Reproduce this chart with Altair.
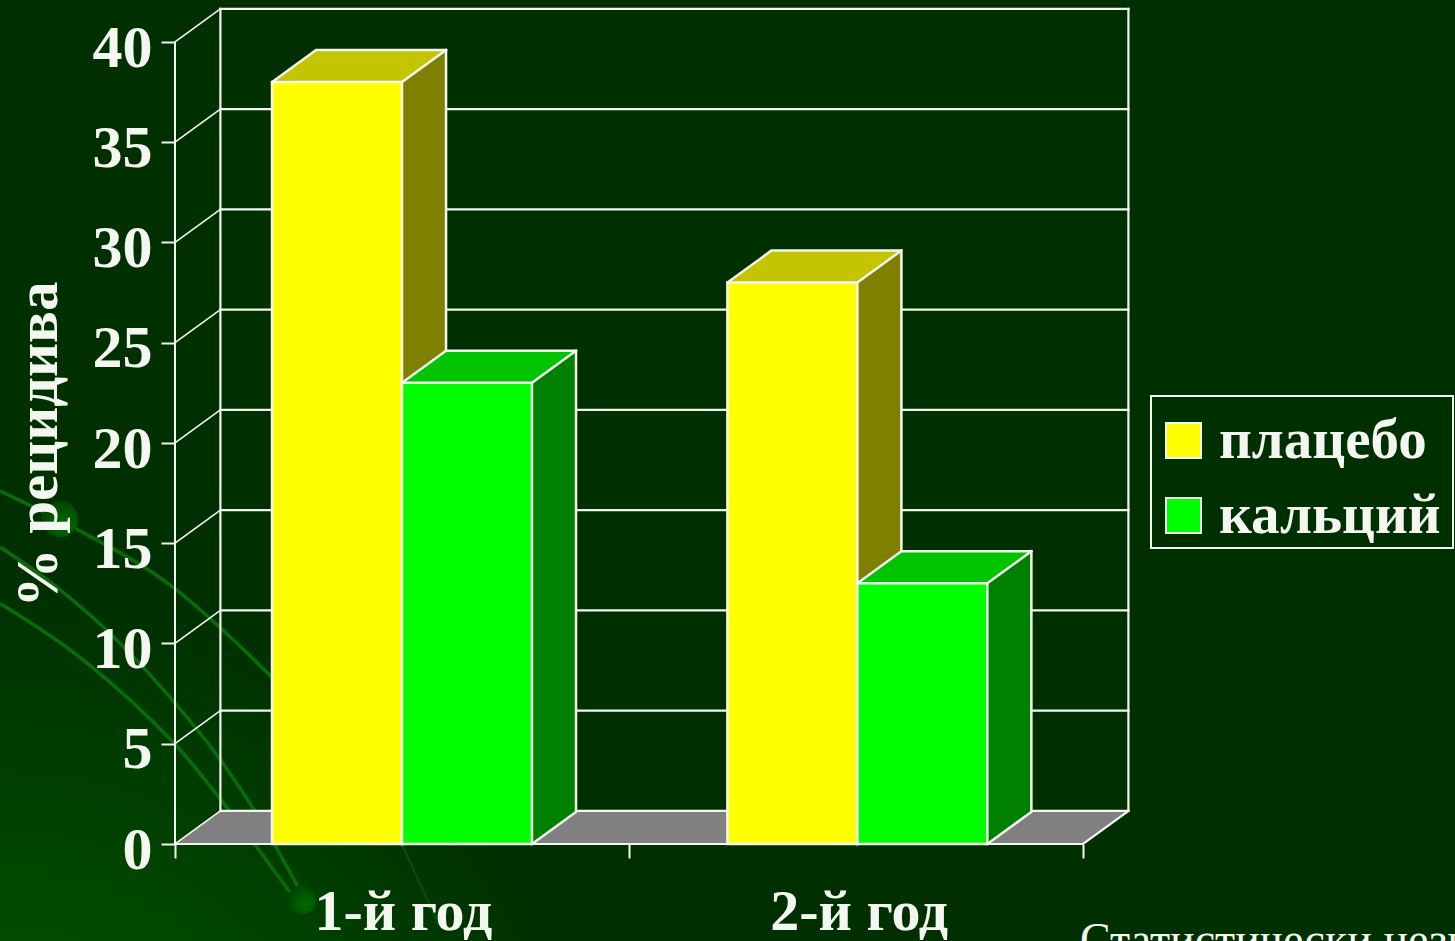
import altair as alt
import pandas as pd

# Relapse rates by year and treatment arm
categories = ["1-й год", "2-й год"]
series_names = ["плацебо", "кальций"]
placebo = [38, 28]
calcium = [23, 13]
y_ticks = [0, 5, 10, 15, 20, 25, 30, 35, 40]
x_ticks = [0, 1, 2]
y_title = "% рецидива"
footnote = "Статистически незначимо"

# Decorative curves in the slide backdrop, in axis units
curve_a_x = [-0.385, -0.216, -0.004, 0.137, 0.214, 0.32]
curve_a_y = [17.6, 15.7, 12.8, 10.0, 8.3, 5.8]
curve_d_x = [0.32, 0.5, 0.58]
curve_d_y = [5.8, 0.0, -4.0]
curve_b_x = [-0.385, -0.26, -0.143, -0.018, 0.09, 0.18, 0.27]
curve_b_y = [14.8, 12.8, 10.5, 7.5, 4.5, 1.5, -2.1]
curve_c_x = [-0.385, -0.238, -0.10, 0.011, 0.115, 0.253]
curve_c_y = [12.0, 9.8, 7.2, 4.7, 1.8, -2.4]
spot_x = [-0.253, 0.28]
spot_y = [16.2, -2.8]

BAR_W = 0.2863
DX, DY = 0.1, 1.65        # depth of the chart box
BAR_DX, BAR_DY = 0.097, 1.6  # depth of a bar

x_scale = alt.Scale(domain=[-175 / 454, 1280 / 454], range=[0, 1455], nice=False, zero=False)
y_scale = alt.Scale(domain=[-97 / 20.05, 844 / 20.05], range=[941, 0], nice=False, zero=False)
color_scale = alt.Scale(domain=series_names, range=["#ffff00", "#00ff00"])

WHITE = "#f4f6f0"


def X(field="x", **kw):
    return alt.X(f"{field}:Q", scale=x_scale, axis=None, title=None, **kw)


def Y(field="y", **kw):
    return alt.Y(f"{field}:Q", scale=y_scale, axis=None, title=None, **kw)


def path_layer(rows, width=2.0, color=WHITE):
    """Polyline(s) given as (id, x, y) rows, kept in row order."""
    df = pd.DataFrame(rows, columns=["id", "x", "y"]).reset_index()
    return (
        alt.Chart(df)
        .mark_line(color=color, strokeWidth=width, strokeCap="square", clip=False)
        .encode(x=X(), y=Y(), detail="id:N", order="index:Q")
    )


backdrop = alt.Chart(pd.DataFrame({"a": [0]})).mark_rect(
    color=alt.RadialGradient(
        gradient="radial",
        x1=0, y1=1, x2=0, y2=1, r1=0, r2=0.42,
        stops=[
            alt.GradientStop(color="#006000", offset=0),
            alt.GradientStop(color="#003000", offset=1),
        ],
    )
).encode(x=alt.value(0), x2=alt.value(1455), y=alt.value(0), y2=alt.value(941))

curve_rows = []
for name, cx, cy in [("a", curve_a_x, curve_a_y), ("b", curve_b_x, curve_b_y), ("c", curve_c_x, curve_c_y)]:
    curve_rows += [(name, px, py) for px, py in zip(cx, cy)]
curves = (
    alt.Chart(pd.DataFrame(curve_rows, columns=["id", "x", "y"]).reset_index())
    .mark_line(color="#0a6a0a", strokeWidth=3.6, interpolate="monotone")
    .encode(x=X(), y=Y(), detail="id:N", order="index:Q")
)
faint_curve = (
    alt.Chart(pd.DataFrame({"x": curve_d_x, "y": curve_d_y}).reset_index())
    .mark_line(color="#0a4c0a", strokeWidth=2.2)
    .encode(x=X(), y=Y(), order="index:Q")
)
spots = (
    alt.Chart(pd.DataFrame({"x": spot_x, "y": spot_y, "s": [1300, 800]}))
    .mark_circle(
        opacity=1,
        color=alt.RadialGradient(
            gradient="radial",
            x1=0.65, y1=0.65, x2=0.65, y2=0.65, r1=0, r2=0.75,
            stops=[
                alt.GradientStop(color="#006a00", offset=0),
                alt.GradientStop(color="#004200", offset=1),
            ],
        ),
    )
    .encode(x=X(), y=Y(), size=alt.Size("s:Q", scale=None, legend=None))
)

# Value axis and the ticks of the category axis
y_axis_layer = (
    alt.Chart(pd.DataFrame({"y": [0, 40], "x": [0, 0]}))
    .mark_line(color=WHITE, strokeWidth=2)
    .encode(
        x=alt.X(
            "x:Q", scale=x_scale, title=None,
            axis=alt.Axis(
                values=x_ticks, orient="bottom", offset=-97, domain=False, grid=False,
                labels=False, ticks=True, tickSize=14, tickColor=WHITE, tickWidth=2,
                title=None, zindex=1,
            ),
        ),
        y=alt.Y(
            "y:Q", scale=y_scale,
            axis=alt.Axis(
                values=y_ticks, orient="left", offset=-175, domain=False, grid=False,
                tickSize=14, tickColor=WHITE, tickWidth=2, labelPadding=9, labelOffset=6,
                labelFont="Liberation Serif", labelFontWeight="bold", labelFontSize=60,
                labelColor=WHITE, labelBaseline="middle", zindex=1,
                title=y_title, titleFont="Liberation Serif", titleFontWeight="bold",
                titleFontSize=59, titleColor=WHITE, titleAngle=270, titleAlign="center",
                titleBaseline="alphabetic", titleX=-119, titleY=444,
            ),
        ),
    )
)

# Grey floor of the box
floor_df = pd.DataFrame({"y": [0, DY], "x": [0, DX], "x2": [2, 2 + DX]})
floor = (
    alt.Chart(floor_df)
    .mark_area(orient="horizontal", color="#808080", opacity=1)
    .encode(y=Y(), x=X(), x2="x2:Q")
)

# Wall gridlines and the slanted lines on the side wall
box_rows = []
for t in y_ticks:
    box_rows.append((f"w{t}", DX, t + DY))
    box_rows.append((f"w{t}", 2 + DX, t + DY))
box_rows += [("l", DX, DY), ("l", DX, 40 + DY), ("r", 2 + DX, DY), ("r", 2 + DX, 40 + DY)]
box = path_layer(box_rows, 2.2)
slant_rows = []
for t in y_ticks:
    slant_rows.append((f"s{t}", 0, t))
    slant_rows.append((f"s{t}", DX, t + DY))
slants = path_layer(slant_rows, 1.6)
front_edge = path_layer([("f", 0, 0), ("f", 2, 0), ("f", 2 + DX, DY)], 2.2)


def bar_layers(name, values, start_offset, side_color, top_color):
    centers = [0.5, 1.503]
    side_rows, top_rows, fronts, outline = [], [], [], []
    for i, (c, v) in enumerate(zip(centers, values)):
        x0 = c + start_offset
        x1 = x0 + BAR_W
        side_rows += [
            {"id": i, "x": x1, "y": 0, "y2": v},
            {"id": i, "x": x1 + BAR_DX, "y": BAR_DY, "y2": v + BAR_DY},
        ]
        top_rows += [
            {"id": i, "y": v, "x": x0, "x2": x1},
            {"id": i, "y": v + BAR_DY, "x": x0 + BAR_DX, "x2": x1 + BAR_DX},
        ]
        fronts.append({"series": name, "x": x0, "x2": x1, "y": 0, "y2": v})
        k = f"o{i}"
        outline += [
            (k, x0, 0), (k, x0, v), (k, x0 + BAR_DX, v + BAR_DY),
            (k, x1 + BAR_DX, v + BAR_DY), (k, x1 + BAR_DX, BAR_DY), (k, x1, 0), (k, x0, 0),
        ]
        outline += [(k + "a", x0, v), (k + "a", x1, v), (k + "a", x1, 0)]
        outline += [(k + "b", x1, v), (k + "b", x1 + BAR_DX, v + BAR_DY)]
    side = (
        alt.Chart(pd.DataFrame(side_rows))
        .mark_area(color=side_color, opacity=1)
        .encode(x=X(), y=Y(), y2="y2:Q", detail="id:N")
    )
    top = (
        alt.Chart(pd.DataFrame(top_rows))
        .mark_area(orient="horizontal", color=top_color, opacity=1)
        .encode(y=Y(), x=X(), x2="x2:Q", detail="id:N")
    )
    front = (
        alt.Chart(pd.DataFrame(fronts))
        .mark_rect(opacity=1)
        .encode(
            x=X(), x2="x2:Q", y=Y(), y2="y2:Q",
            color=alt.Color(
                "series:N", scale=color_scale,
                legend=alt.Legend(
                    orient="none", legendX=1141, legendY=398, title=None,
                    symbolType="square", symbolSize=1225, symbolStrokeColor=WHITE,
                    symbolStrokeWidth=2, symbolOpacity=1,
                    labelFont="Liberation Serif", labelFontWeight="bold", labelFontSize=57,
                    labelColor=WHITE, labelLimit=400, labelOffset=7,
                    rowPadding=17, padding=14,
                ),
            ),
        )
    )
    return [side, top, front, path_layer(outline, 2.5)]


legend_box = (
    alt.Chart(pd.DataFrame({"a": [0]}))
    .mark_rect(fillOpacity=0, stroke=WHITE, strokeWidth=2)
    .encode(x=alt.value(1151), x2=alt.value(1453), y=alt.value(396), y2=alt.value(548))
)

category_labels = (
    alt.Chart(pd.DataFrame({"label": categories, "x": [0.503, 1.507], "y": [-4.3, -4.3]}))
    .mark_text(font="Liberation Serif", fontWeight="bold", fontSize=58, color=WHITE, baseline="alphabetic")
    .encode(x=X(), y=Y(), text="label:N")
)
note = (
    alt.Chart(pd.DataFrame({"label": [footnote], "x": [905 / 454], "y": [-5.55]}))
    .mark_text(font="Liberation Serif", fontSize=46, color=WHITE, align="left", baseline="alphabetic")
    .encode(x=X(), y=Y(), text="label:N")
)

chart = (
    alt.layer(
        backdrop, curves, faint_curve, spots, floor, box, slants, front_edge, y_axis_layer,
        *bar_layers(series_names[0], placebo, -BAR_W, "#808000", "#c4c400"),
        *bar_layers(series_names[1], calcium, 0.0, "#008000", "#00c400"),
        legend_box, category_labels, note,
    )
    .resolve_axis(x="independent", y="independent")
    .properties(
        width=1455, height=941, background="#003000", padding=0,
        autosize=alt.AutoSizeParams(type="none"),
    )
    .configure_view(stroke=None)
)

chart.save("out.html", embed_options={"renderer": "svg", "actions": False})
